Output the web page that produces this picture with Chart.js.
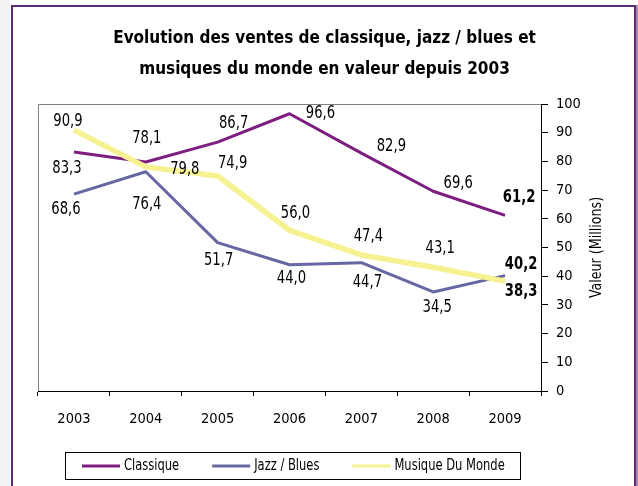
<!DOCTYPE html>
<html>
<head>
<meta charset="utf-8">
<script src="https://cdn.jsdelivr.net/npm/chart.js@4.4.1/dist/chart.umd.min.js"></script>
<style>
  html, body { margin: 0; padding: 0; background: #fff; }
  #wrap { width: 638px; height: 486px; position: relative; }
</style>
</head>
<body>
<div id="wrap"><canvas id="venteChart"></canvas></div>
<script>
var years = ['2003', '2004', '2005', '2006', '2007', '2008', '2009'];
var seriesNames = ['Classique', 'Jazz / Blues', 'Musique Du Monde'];
var classique = [83.3, 79.8, 86.7, 96.6, 82.9, 69.6, 61.2];
var jazzBlues = [68.6, 76.4, 51.7, 44.0, 44.7, 34.5, 40.2];
var musiqueMonde = [90.9, 78.1, 74.9, 56.0, 47.4, 43.1, 38.3];
var yTicks = [0, 10, 20, 30, 40, 50, 60, 70, 80, 90, 100];

var FONT = "'Liberation Sans Narrow', 'DejaVu Sans Condensed', sans-serif";

// where each value label sits relative to its point (dx, dy)
var labelOffsets = [
    [[-7, 17], [39, 8], [16, -19], [31, 0], [30, -6], [25, -8], [14, -18]],
    [[-8, 15], [1, 33], [1, 18], [2, 14], [6, 20], [4, 16], [16, -11]],
    [[-6, -9], [1, -28], [15, -12], [6, -17], [7, -18], [7, -19], [16, 10]]
];

// text squeezed sideways, the installed fonts are wider than the original one
function narrowText(c, text, x, y, sx) {
    c.save();
    c.translate(x, y);
    c.scale(sx, 1);
    c.fillText(text, 0, 0);
    c.restore();
}

// frame + plot border
var framePlugin = {
    id: 'frame',
    beforeDraw: function (chart) {
        var c = chart.ctx;
        c.save();
        c.fillStyle = '#fff';
        c.fillRect(0, 0, chart.width, chart.height);
        c.fillStyle = '#f4f2f5';
        c.fillRect(0, 0, 10, chart.height);
        c.fillStyle = '#5e2a72';
        c.fillRect(11, 5, 2, chart.height);
        c.fillRect(11, 5, 624, 2);
        c.fillRect(634, 5, 2, chart.height);
        c.fillStyle = '#a889b6';
        c.fillRect(636, 5, 2, chart.height);
        c.restore();
    },
    beforeDatasetsDraw: function (chart) {
        var a = chart.chartArea, c = chart.ctx;
        c.save();
        c.strokeStyle = '#808080';
        c.lineWidth = 1;
        c.beginPath();
        c.moveTo(a.left + 0.5, a.bottom);
        c.lineTo(a.left + 0.5, a.top + 0.5);
        c.lineTo(a.right, a.top + 0.5);
        c.stroke();
        c.restore();
    }
};

var valueLabels = {
    id: 'valueLabels',
    afterDatasetsDraw: function (chart) {
        var c = chart.ctx;
        c.save();
        c.fillStyle = '#000';
        c.textAlign = 'center';
        c.textBaseline = 'middle';
        chart.data.datasets.forEach(function (ds, di) {
            var meta = chart.getDatasetMeta(di);
            meta.data.forEach(function (pt, i) {
                var last = i === ds.data.length - 1;
                c.font = (last ? 'bold ' : '') + '17px ' + FONT;
                var off = labelOffsets[di][i];
                narrowText(c, ds.data[i].toFixed(1).replace('.', ','), pt.x + off[0], pt.y + off[1], 0.86);
            });
        });
        c.restore();
    }
};

// y title (reads bottom to top) and boxed legend
var extras = {
    id: 'extras',
    afterDraw: function (chart) {
        var a = chart.chartArea, c = chart.ctx;
        c.save();
        c.fillStyle = '#000';
        c.font = '16px ' + FONT;
        c.textAlign = 'center';
        c.textBaseline = 'middle';
        c.translate(597, (a.top + a.bottom) / 2);
        c.rotate(-Math.PI / 2);
        narrowText(c, 'Valeur (Millions)', 0, 0, 0.88);
        c.restore();

        c.save();
        var sx = 0.8;
        c.font = '16px ' + FONT;
        var lineW = 38, gapText = 4, gapItem = 33, padL = 17, padR = 15;
        var widths = chart.data.datasets.map(function (ds) {
            return lineW + gapText + c.measureText(ds.label).width * sx;
        });
        var total = padL + padR + widths.reduce(function (s, w) { return s + w; }, 0) + gapItem * (widths.length - 1);
        var cx = 292, top = 452, h = 27;
        var x = Math.round(cx - total / 2);
        c.strokeStyle = '#000';
        c.lineWidth = 1;
        c.strokeRect(x + 0.5, top + 0.5, Math.round(total), h);
        var ly = top + h / 2 + 0.5;
        x += padL;
        c.textBaseline = 'middle';
        c.textAlign = 'left';
        chart.data.datasets.forEach(function (ds, i) {
            c.strokeStyle = ds.borderColor;
            c.lineWidth = 3;
            c.beginPath();
            c.moveTo(x, ly);
            c.lineTo(x + lineW, ly);
            c.stroke();
            c.fillStyle = '#000';
            narrowText(c, ds.label, x + lineW + gapText, ly, sx);
            x += widths[i] + gapItem;
        });
        c.restore();
    }
};

var ctx = document.getElementById('venteChart').getContext('2d');
var venteChart = new Chart(ctx, {
    type: 'line',
    data: {
        labels: years,
        datasets: [{
            label: seriesNames[0],
            data: classique,
            borderColor: '#7e1e80',
            borderWidth: 3,
            order: 1
        }, {
            label: seriesNames[1],
            data: jazzBlues,
            borderColor: '#6767a3',
            borderWidth: 3,
            order: 2
        }, {
            label: seriesNames[2],
            data: musiqueMonde,
            borderColor: '#f6f191',
            borderWidth: 5.5,
            order: 0
        }]
    },
    options: {
        responsive: true,
        maintainAspectRatio: false,
        animation: false,
        events: [],
        layout: { padding: { left: 38, right: 27, top: 0, bottom: 55 } },
        elements: {
            point: { radius: 0 },
            line: { tension: 0, borderJoinStyle: 'round' }
        },
        plugins: {
            legend: { display: false },
            tooltip: { enabled: false },
            title: {
                display: true,
                text: ['Evolution des ventes de classique, jazz / blues et',
                       'musiques du monde en valeur depuis 2003'],
                color: '#000',
                font: { family: FONT, size: 17, weight: 'bold', lineHeight: 31 / 17 },
                padding: { top: 23, bottom: 19 }
            }
        },
        scales: {
            x: {
                offset: true,
                grid: { drawOnChartArea: false, drawTicks: true, tickLength: 5, color: '#000', offset: true },
                border: { color: '#000', width: 1 },
                ticks: { color: '#000', font: { family: FONT, size: 14.5 }, padding: 15, maxRotation: 0 },
                afterFit: function (s) { s.height = 40; }
            },
            y: {
                position: 'right',
                min: 0,
                max: 100,
                afterBuildTicks: function (s) { s.ticks = yTicks.map(function (v) { return { value: v }; }); },
                grid: { drawOnChartArea: false, drawTicks: true, tickLength: 7, color: '#000' },
                border: { color: '#000', width: 1 },
                ticks: { color: '#000', font: { family: FONT, size: 14.5 }, padding: 8 },
                afterFit: function (s) { s.width = 70; }
            }
        }
    },
    plugins: [framePlugin, valueLabels, extras]
});
</script>
</body>
</html>
